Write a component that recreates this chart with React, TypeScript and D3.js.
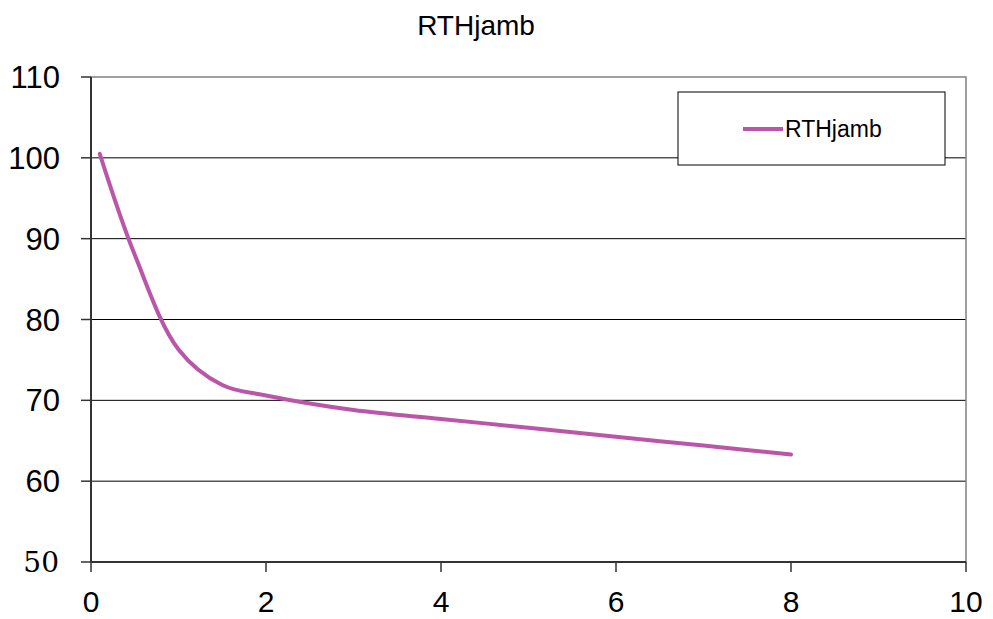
import React from "react";
import * as d3 from "d3";

const seriesName = "RTHjamb";
const xValues = [0.1, 0.5, 1.0, 1.5, 2, 3, 4, 5, 6, 7, 8];
const yValues = [100.5, 88, 76.3, 71.9, 70.6, 68.8, 67.7, 66.6, 65.5, 64.4, 63.3];
const xTicks = [0, 2, 4, 6, 8, 10];
const yTicks = [50, 60, 70, 80, 90, 100, 110];

export default function App() {
  const W = 993, H = 619;
  const left = 91, right = 966, top = 77, bottom = 562;
  const x = d3.scaleLinear().domain([0, 10]).range([left, right]);
  const y = d3.scaleLinear().domain([50, 110]).range([bottom, top]);
  const pts = xValues.map((v, i) => [v, yValues[i]] as [number, number]);
  const line = d3.line<[number, number]>().x(d => x(d[0])).y(d => y(d[1])).curve(d3.curveCatmullRom.alpha(0.5));
  const color = "#BB55A8";
  const font = "'Liberation Sans', Arial, sans-serif";
  const serif = "'DejaVu Serif', 'Liberation Serif', serif";
  return (
    <svg width={W} height={H} style={{ position: "absolute", left: 0, top: 0, background: "#fff" }}>
      <rect x={0} y={0} width={W} height={H} fill="#fff" />
      <text x={476} y={35} textAnchor="middle" fontFamily={font} fontSize={28} fill="#000">{seriesName}</text>
      {yTicks.filter(t => t !== 50 && t !== 110).map(t => (
        <line key={"g" + t} x1={left} x2={right} y1={y(t)} y2={y(t)} stroke="#000" strokeWidth={1} />
      ))}
      <rect x={left} y={top} width={right - left} height={bottom - top} fill="none" stroke="#808080" strokeWidth={1.5} />
      <line x1={left} x2={left} y1={top} y2={bottom} stroke="#333" strokeWidth={2} />
      <line x1={left} x2={right} y1={bottom} y2={bottom} stroke="#333" strokeWidth={2} />
      {yTicks.map(t => (
        <g key={"y" + t}>
          <line x1={left - 10} x2={left} y1={y(t)} y2={y(t)} stroke="#333" strokeWidth={1.5} />
          {t === 50 ? (
            <text x={59} y={y(t)} dy="0.34em" textAnchor="end" fontFamily={serif} fontSize={28} fill="#000">{t}</text>
          ) : (
            <text x={60} y={y(t)} dy="0.36em" textAnchor="end" fontFamily={font} fontSize={31} fill="#000">{t}</text>
          )}
        </g>
      ))}
      {xTicks.map(t => (
        <g key={"x" + t}>
          <line x1={x(t)} x2={x(t)} y1={bottom} y2={bottom + 10} stroke="#333" strokeWidth={1.5} />
          <text x={x(t)} y={612} textAnchor="middle" fontFamily={font} fontSize={30} fill="#000">{t}</text>
        </g>
      ))}
      <path d={line(pts) || ""} fill="none" stroke={color} strokeWidth={4} strokeLinecap="round" />
      <rect x={678} y={92} width={267} height={73} fill="#fff" stroke="#000" strokeWidth={1} />
      <line x1={743} x2={783} y1={129} y2={129} stroke={color} strokeWidth={4} />
      <text x={785} y={137} fontFamily={font} fontSize={23} fill="#000">{seriesName}</text>
    </svg>
  );
}
